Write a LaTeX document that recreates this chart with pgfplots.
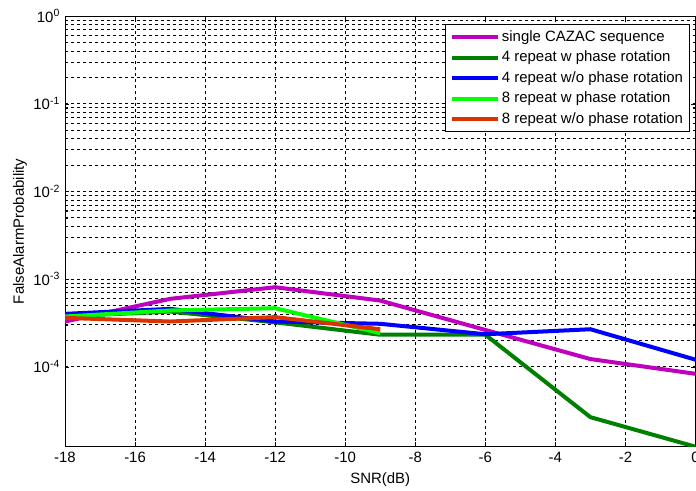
\documentclass[border=0pt]{standalone}
\usepackage{pgfplots}
\pgfplotsset{compat=1.18}
\usepackage{fontspec}
\setmainfont{Liberation Sans}
\definecolor{cmag}{RGB}{191,0,191}
\definecolor{cdgreen}{RGB}{0,128,0}
\definecolor{cblue}{RGB}{0,0,255}
\definecolor{clgreen}{RGB}{0,255,0}
\definecolor{cred}{RGB}{217,51,0}
\begin{document}
\fontsize{15}{18}\selectfont
\begin{tikzpicture}
\begin{axis}[
  scale only axis,
  width=630.5bp, height=430.7bp,
  ymode=log,
  xmin=-18, xmax=0,
  ymin=1.22e-5, ymax=1,
  xtick={-18,-16,...,0},
  ytick={1e-4,1e-3,1e-2,1e-1,1},
  yticklabels={10\textsuperscript{-4},10\textsuperscript{-3},10\textsuperscript{-2},10\textsuperscript{-1},10\textsuperscript{0}},
  /pgf/number format/assume math mode=true,
  xticklabel style={font=\fontsize{15}{18}\selectfont},
  yticklabel style={font=\fontsize{15}{18}\selectfont},
  xmajorgrids, ymajorgrids, yminorgrids,
  major grid style={black, dashed, line width=0.6bp},
  minor grid style={black, dashed, line width=0.6bp},
  axis line style={black, line width=1bp},
  tick style={black},
  xlabel={SNR(dB)},
  ylabel={FalseAlarmProbability},
  xlabel style={at={(axis description cs:0.5,-0.0766)}, anchor=center, font=\fontsize{15}{18}\selectfont},
  ylabel style={at={(axis description cs:-0.0714,0.5)}, anchor=center, font=\fontsize{15}{18}\selectfont},
  legend style={at={(axis description cs:1,1)}, xshift=-6bp, yshift=-8bp, anchor=north east,
    draw=black, line width=1bp, fill=white, font=\fontsize{15}{18}\selectfont,
    row sep=3.5bp, inner sep=4bp},
  legend cell align=left,
  legend image code/.code={\draw[#1, line width=4bp] (0bp,0bp) -- (46bp,0bp);},
  every axis plot/.append style={line width=4bp},
]
\addplot[cmag] coordinates {(-18,3.27e-4) (-15,5.93e-4) (-12,8.05e-4) (-9,5.67e-4) (-6,2.62e-4) (-3,1.22e-4) (0,8.28e-5)};
\addlegendentry{single CAZAC sequence}
\addplot[cdgreen] coordinates {(-18,3.75e-4) (-15,4.25e-4) (-12,3.2e-4) (-9,2.31e-4) (-6,2.31e-4) (-3,2.65e-5) (0,1.22e-5)};
\addlegendentry{4 repeat w phase rotation}
\addplot[cblue] coordinates {(-18,4.0e-4) (-15,4.56e-4) (-12,3.27e-4) (-9,3.08e-4) (-6,2.34e-4) (-3,2.67e-4) (0,1.2e-4)};
\addlegendentry{4 repeat w/o phase rotation}
\addplot[clgreen] coordinates {(-18,3.73e-4) (-15,4.37e-4) (-12,4.64e-4) (-9,2.41e-4)};
\addlegendentry{8 repeat w phase rotation}
\addplot[cred] coordinates {(-18,3.6e-4) (-15,3.27e-4) (-12,3.67e-4) (-9,2.67e-4)};
\addlegendentry{8 repeat w/o phase rotation}
\end{axis}
\pgfresetboundingbox
\path[use as bounding box] (current axis.south west) ++(-65bp,-44.3bp) rectangle ++(696bp,491bp);
\end{tikzpicture}
\end{document}
